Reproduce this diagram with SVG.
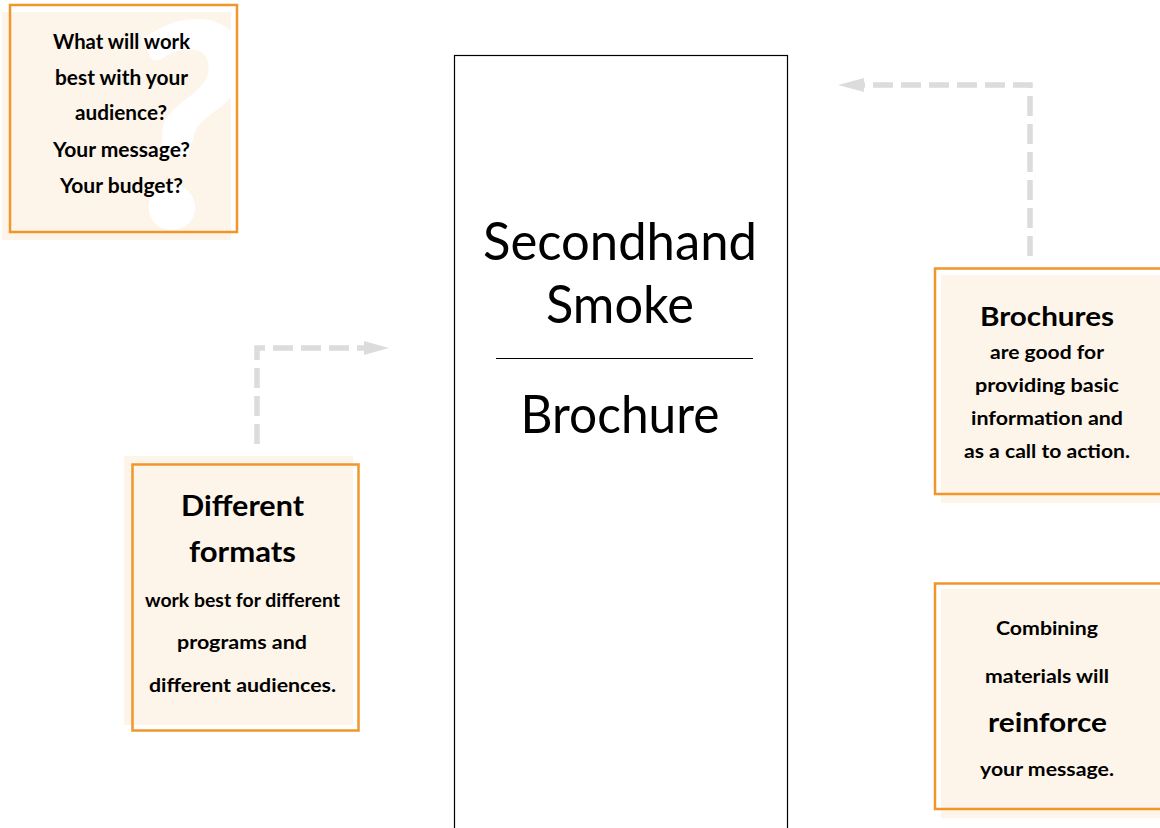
<svg xmlns="http://www.w3.org/2000/svg" width="1160" height="828" viewBox="0 0 1160 828">
<style>
.cream{fill:#FEF5EA;stroke:none}
.frame{fill:none;stroke:#F0962A;stroke-width:2.5}
.b{font-family:Lato,"Liberation Sans",sans-serif;font-weight:700;fill:#000;text-anchor:middle}
.t{font-family:Lato,"Liberation Sans",sans-serif;font-weight:400;fill:#000;text-anchor:middle;font-size:52px}
.dash{fill:none;stroke:#DCDCDC;stroke-width:5.5;stroke-dasharray:20 8}
.head{fill:#DCDCDC}
</style>
<defs>
<clipPath id="c1"><rect x="2" y="12" width="229" height="228"/></clipPath>
</defs>
<rect width="1160" height="828" fill="#fff"/>
<g id="connectors">
<path class="dash" d="M257,444 V348 H366"/>
<polygon class="head" points="364,341 389,348 364,355"/>
<path class="dash" d="M1030,256 V85 H862"/>
<polygon class="head" points="864,78 838,85 864,92"/>
</g>
<g id="center">
<rect x="454.5" y="55.5" width="333" height="800" fill="#fff" stroke="#000" stroke-width="1.2"/>
<line x1="496" y1="358.5" x2="753" y2="358.5" stroke="#000" stroke-width="1.2"/>
<text class="t" x="620" y="260" textLength="274" lengthAdjust="spacingAndGlyphs">Secondhand</text>
<text class="t" x="620" y="323" textLength="148" lengthAdjust="spacingAndGlyphs">Smoke</text>
<text class="t" x="620" y="433" textLength="199" lengthAdjust="spacingAndGlyphs">Brochure</text>
</g>
<g id="question">
<rect class="cream" x="2" y="12" width="229" height="228"/>
<text x="183" y="228" clip-path="url(#c1)" font-family="Lato,'Liberation Sans',sans-serif" font-weight="900" font-style="italic" font-size="285" fill="#fff" text-anchor="middle">?</text>
<rect class="frame" x="10" y="5" width="227" height="227"/>
<text class="b" font-size="20" x="121.5" y="49" textLength="137" lengthAdjust="spacingAndGlyphs">What will work</text>
<text class="b" font-size="20" x="121.5" y="85" textLength="133" lengthAdjust="spacingAndGlyphs">best with your</text>
<text class="b" font-size="20" x="121" y="120" textLength="92" lengthAdjust="spacingAndGlyphs">audience?</text>
<text class="b" font-size="20" x="121.5" y="157" textLength="137" lengthAdjust="spacingAndGlyphs">Your message?</text>
<text class="b" font-size="20" x="121.5" y="193" textLength="123" lengthAdjust="spacingAndGlyphs">Your budget?</text>
</g>
<g id="formats">
<rect class="cream" x="124" y="456" width="229" height="269"/>
<rect class="frame" x="132.5" y="464.5" width="226" height="266"/>
<text class="b" font-size="28" x="242.5" y="516" textLength="123" lengthAdjust="spacingAndGlyphs">Different</text>
<text class="b" font-size="28" x="242.5" y="562" textLength="107" lengthAdjust="spacingAndGlyphs">formats</text>
<text class="b" font-size="19" x="242.5" y="607" textLength="195" lengthAdjust="spacingAndGlyphs">work best for different</text>
<text class="b" font-size="19" x="242" y="649" textLength="130" lengthAdjust="spacingAndGlyphs">programs and</text>
<text class="b" font-size="19" x="242.5" y="692" textLength="187" lengthAdjust="spacingAndGlyphs">different audiences.</text>
</g>
<g id="brochures">
<rect class="cream" x="941" y="275" width="219" height="228"/>
<rect class="frame" x="935" y="268.5" width="240" height="225.5"/>
<text class="b" font-size="27" x="1047" y="326" textLength="134" lengthAdjust="spacingAndGlyphs">Brochures</text>
<text class="b" font-size="18.5" x="1047" y="359" textLength="114" lengthAdjust="spacingAndGlyphs">are good for</text>
<text class="b" font-size="18.5" x="1047" y="392" textLength="144" lengthAdjust="spacingAndGlyphs">providing basic</text>
<text class="b" font-size="18.5" x="1047" y="425" textLength="152" lengthAdjust="spacingAndGlyphs">information and</text>
<text class="b" font-size="18.5" x="1047" y="458" textLength="166" lengthAdjust="spacingAndGlyphs">as a call to action.</text>
</g>
<g id="combining">
<rect class="cream" x="941" y="589" width="219" height="229"/>
<rect class="frame" x="935" y="583.5" width="240" height="225.5"/>
<text class="b" font-size="18.5" x="1047" y="635" textLength="102" lengthAdjust="spacingAndGlyphs">Combining</text>
<text class="b" font-size="18.5" x="1047" y="683" textLength="124" lengthAdjust="spacingAndGlyphs">materials will</text>
<text class="b" font-size="27" x="1047.5" y="732" textLength="119" lengthAdjust="spacingAndGlyphs">reinforce</text>
<text class="b" font-size="18.5" x="1047" y="776" textLength="134" lengthAdjust="spacingAndGlyphs">your message.</text>
</g>
</svg>
